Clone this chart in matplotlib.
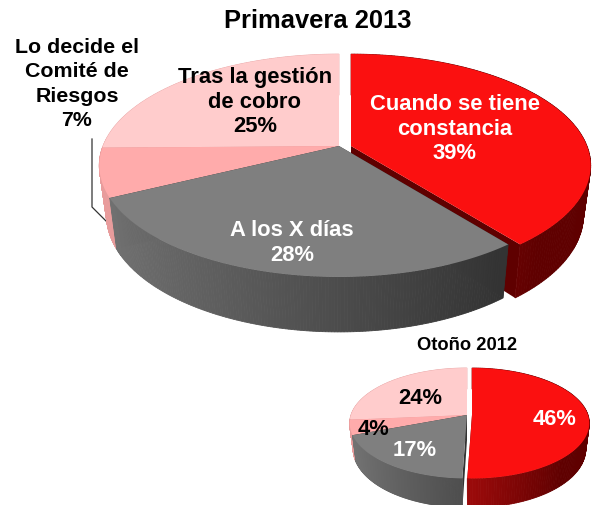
import numpy as np
import matplotlib
matplotlib.use("Agg")
import matplotlib.pyplot as plt
from matplotlib.patches import Polygon
from matplotlib.colors import to_rgb

plt.rcParams['font.family'] = ['Liberation Sans', 'DejaVu Sans']

# Data
main_title = "Primavera 2013"
main_labels = ["Cuando se tiene\nconstancia", "A los X días", "Lo decide el\nComité de\nRiesgos", "Tras la gestión\nde cobro"]
main_values = [39, 28, 7, 25]
small_title = "Otoño 2012"
small_values = [46, 17, 4, 24]

TOP = ["#FB1010", "#7F7F7F", "#FFABAB", "#FFCCCC"]
SIDE_L = ["#9A0A0A", "#757575", "#E89C9C", "#EDB0B0"]
SIDE_R = ["#5F0000", "#333333", "#E89C9C", "#EDB0B0"]
U_RANGE = [(0.0, 0.7), (-1.0, 0.6), (-1.0, 1.0), (-1.0, 1.0)]
CUT = "#5F0000"

fig = plt.figure(figsize=(5.93, 5.06), dpi=100)
ax = fig.add_axes([0, 0, 1, 1])
ax.set_xlim(0, 593)
ax.set_ylim(506, 0)
ax.axis("off")


def pie3d(values, cx, cy, A, k, p, d0, d1, shift, zbase=1):
    """Perspective pie: slices run clockwise from 12 o'clock."""
    vals = np.asarray(values, float)
    edges = np.concatenate([[0], np.cumsum(vals)]) / vals.sum() * 2 * np.pi

    def top(t):
        u, v = np.sin(t), np.cos(t)
        w = 1 + p * v
        return A * u / w, -k * v / w

    def bottom(t):
        x, y = top(t)
        return 0.97 * x, y + d0 - d1 * np.cos(t)

    order = [0, 3, 2, 1]
    for z, i in enumerate(order):
        a, b = edges[i], edges[i + 1]
        dx = shift if i == 0 else 0
        ts = np.linspace(a, b, 160)
        X, Y = top(ts)
        Xb, Yb = bottom(ts)
        o = zbase + z * 0.1
        # radial cut faces
        for t in (a, b):
            x, y = top(t)
            xb, yb = bottom(t)
            ax.add_patch(Polygon(
                [(cx + dx, cy), (cx + dx + x, cy + y), (cx + dx + xb, cy + yb), (cx + dx, cy + d0)],
                closed=True, fc=CUT if i == 0 else SIDE_R[i], ec="none", zorder=o))
        # outer wall, drawn in shaded strips
        c0, c1 = np.array(to_rgb(SIDE_L[i])), np.array(to_rgb(SIDE_R[i]))
        lo, hi = U_RANGE[i]
        for j in range(len(ts) - 1):
            um = np.sin((ts[j] + ts[j + 1]) / 2)
            f = np.clip((um - lo) / (hi - lo), 0, 1)
            col = c0 + (c1 - c0) * f
            ax.add_patch(Polygon(
                [(cx + dx + X[j], cy + Y[j]), (cx + dx + X[j + 1], cy + Y[j + 1]),
                 (cx + dx + Xb[j + 1], cy + Yb[j + 1]), (cx + dx + Xb[j], cy + Yb[j])],
                closed=True, fc=col, ec=col, lw=0.6, zorder=o + 0.01))
        # top surface
        pts = [(cx + dx, cy)] + list(zip(cx + dx + X, cy + Y))
        ax.add_patch(Polygon(pts, closed=True, fc=TOP[i], ec="none", zorder=o + 0.05))


# Leader line sits behind the pie
ax.plot([92, 92, 107], [140, 208, 223], color="#333333", lw=0.9, zorder=0.5)

pie3d(main_values, 339, 147, 236, 108, 0.175, 48, 7, 12)
pie3d(small_values, 467, 416, 116, 54, 0.149, 25, 4, 5)

bold = dict(fontweight="bold", ha="center", va="center", zorder=10)
fs = 15.8
ax.text(318, 21, main_title, fontsize=18.4, **bold)
ax.text(467, 346, small_title, fontsize=13.2, **bold)
ax.text(455, 129, f"{main_labels[0]}\n{main_values[0]}%", fontsize=fs, color="white", linespacing=1.24, **bold)
ax.text(292, 243, f"{main_labels[1]}\n{main_values[1]}%", fontsize=fs, color="white", linespacing=1.24, **bold)
ax.text(77, 84, f"{main_labels[2]}\n{main_values[2]}%", fontsize=15.4, color="black", linespacing=1.34, **bold)
ax.text(255, 102, f"{main_labels[3]}\n{main_values[3]}%", fontsize=fs, color="black", linespacing=1.24, **bold)
ax.text(555, 420, f"{small_values[0]}%", fontsize=fs, color="white", **bold)
ax.text(415, 451, f"{small_values[1]}%", fontsize=fs, color="white", **bold)
ax.text(374, 430, f"{small_values[2]}%", fontsize=fs, color="black", **bold)
ax.text(420, 399, f"{small_values[3]}%", fontsize=fs, color="black", **bold)

fig.savefig("out.png", dpi=100)
